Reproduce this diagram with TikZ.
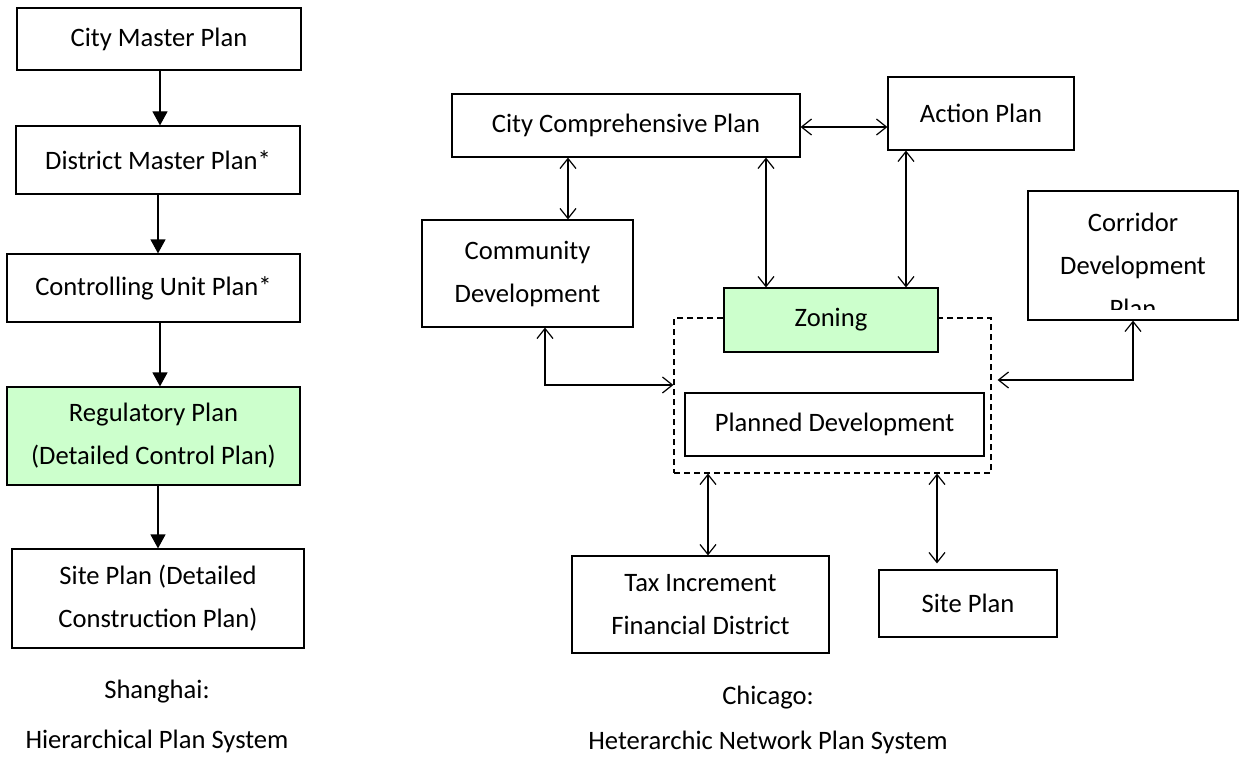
\documentclass[tikz,border=0pt]{standalone}
\usepackage{fontspec}
\setmainfont{Carlito}
\usepackage{xcolor}
\definecolor{zonegreen}{RGB}{204,255,204}
\usepackage{tikz}
\usetikzlibrary{arrows.meta,calc}
\tikzset{
    planbox/.style={draw, line width=0.6pt, inner sep=0pt, align=center},
    downarrow/.style={line width=0.6pt, -{Triangle[length=7pt,width=7.5pt]}},
    linkarrow/.style={line width=0.6pt, {Straight Barb[length=5pt,width=8pt]}-{Straight Barb[length=5pt,width=8pt]}}
}
\begin{document}
\begin{tikzpicture}[x=0.5pt, y=-0.5pt]
    \fontsize{13.3}{21.5}\selectfont
    \useasboundingbox (0,0) rectangle (1240,770);
    % Shanghai
    \node[planbox, minimum width=142pt, minimum height=31pt] (cmp) at (159,39) {City Master Plan};
    \node[planbox, minimum width=142pt, minimum height=34pt] (dmp) at (158,160) {District Master Plan*};
    \node[planbox, minimum width=146.5pt, minimum height=34pt] (cup) at (153.5,288) {Controlling Unit Plan*};
    \node[planbox, fill=zonegreen, minimum width=146.5pt, minimum height=49pt] (reg) at (153.5,436) {Regulatory Plan\\(Detailed Control Plan)};
    \node[planbox, minimum width=146pt, minimum height=49.5pt] (sit1) at (158,598.5) {Site Plan (Detailed\\Construction Plan)};
    \draw[downarrow] ([xshift=0.5pt]cmp.south) -- ([xshift=0.5pt]cmp.south |- dmp.north);
    \draw[downarrow] (dmp.south) -- (dmp.south |- cup.north);
    \draw[downarrow] ([xshift=3.25pt]cup.south) -- ([xshift=3.25pt]cup.south |- reg.north);
    \draw[downarrow] ([xshift=2.25pt]reg.south) -- ([xshift=2.25pt]reg.south |- sit1.north);
    \node[align=center, font=\fontsize{13.3}{25}\selectfont] (shcap) at (157,716) {Shanghai:\\Hierarchical Plan System};
    % Chicago
    \node[draw, dash pattern=on 3pt off 2pt, line width=0.6pt, minimum width=158.5pt, minimum height=77.5pt] (dsh) at (832.5,395.5) {};
    \node[planbox, minimum width=174pt, minimum height=31.5pt] (ccp) at (626,125.5) {City Comprehensive Plan};
    \node[planbox, minimum width=93pt, minimum height=36.5pt] (act) at (981,113.5) {Action Plan};
    \node[planbox, minimum width=105.5pt, minimum height=53.5pt] (com) at (527.5,273.5) {Community\\Development};
    \node[planbox, fill=zonegreen, minimum width=107pt, minimum height=32pt] (zon) at (831,320) {Zoning};
    \node[planbox, minimum width=149.5pt, minimum height=31.5pt] (pld) at (834.5,424.5) {Planned Development};
    \node[planbox, minimum width=105pt, minimum height=64.5pt] (cor) at (1133,255.5) {};
    \begin{scope}
        \clip (cor.north west) rectangle ([yshift=5.5pt]cor.south east);
        \node[align=center] (cortext) at ([yshift=-4.75pt]cor.center) {Corridor\\Development\\Plan};
    \end{scope}
    \node[planbox, minimum width=128.5pt, minimum height=48.5pt] (tax) at (700.5,604.5) {Tax Increment\\Financial District};
    \node[planbox, minimum width=89pt, minimum height=33.5pt] (sit2) at (968,603.5) {Site Plan};
    \draw[linkarrow] ([yshift=-0.75pt]ccp.east) -- ([yshift=-0.75pt]ccp.east -| act.west);
    \draw[linkarrow] ([xshift=20.25pt]com.north) -- ([xshift=20.25pt]com.north |- ccp.south);
    \draw[linkarrow] ([xshift=-32.5pt]zon.north) -- ([xshift=-32.5pt]zon.north |- ccp.south);
    \draw[linkarrow] ([xshift=37.5pt]zon.north) -- ([xshift=37.5pt]zon.north |- act.south);
    \draw[linkarrow] ([xshift=8.75pt]com.south) |- ([yshift=5.25pt]dsh.west);
    \draw[linkarrow] (cor.south) |- ([xshift=3pt,yshift=7.75pt]dsh.east);
    \draw[linkarrow] ([xshift=3.75pt]tax.north) -- ([xshift=3.75pt]tax.north |- dsh.south);
    \draw[linkarrow] ([xshift=-15.5pt,yshift=3pt]sit2.north) -- ([xshift=-15.5pt]sit2.north |- dsh.south);
    \node[align=center, font=\fontsize{13.3}{22.5}\selectfont] (chcap) at (768,720) {Chicago:\\Heterarchic Network Plan System};
\end{tikzpicture}
\end{document}
